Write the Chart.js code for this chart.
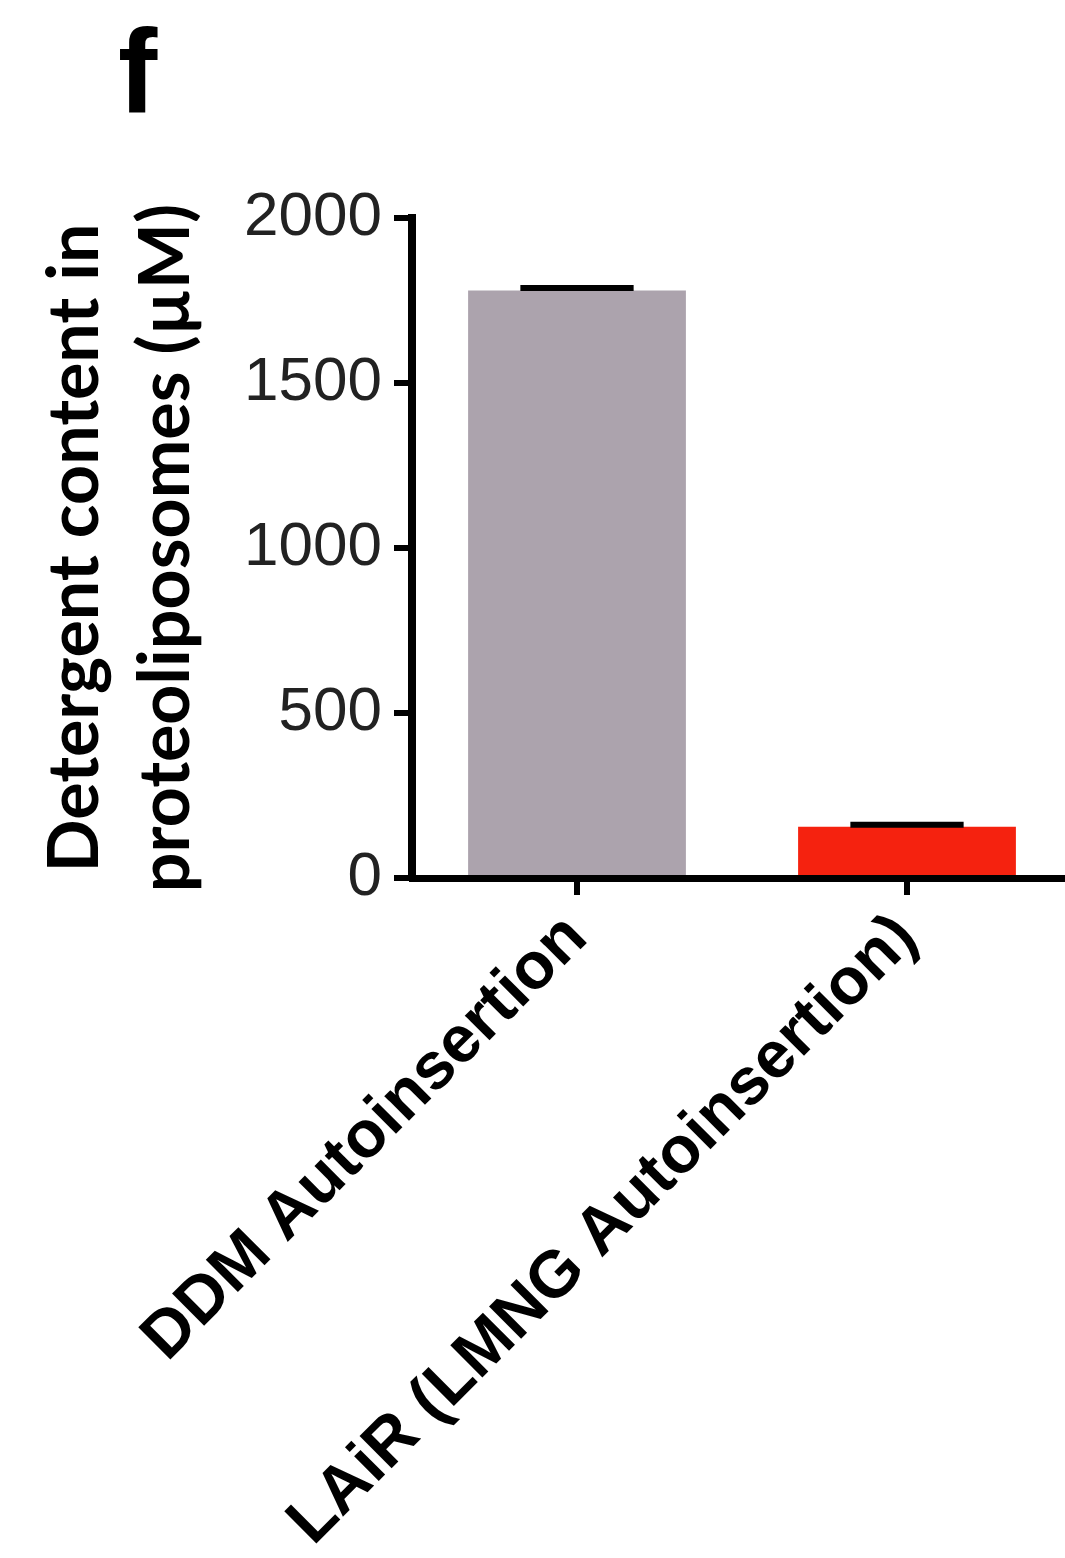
<!DOCTYPE html>
<html>
<head>
<meta charset="utf-8">
<script src="https://cdn.jsdelivr.net/npm/chart.js@4"></script>
<style>
  html, body { margin: 0; padding: 0; background: #fff; overflow: hidden; }
  #wrap { position: relative; width: 1072px; height: 1558px; }
  #panel { position: absolute; left: 118px; top: 3px; font: bold 118px 'Liberation Sans', Arial, sans-serif; color: #000; }
  canvas { position: absolute; left: 0; top: 0; }
</style>
</head>
<body>
<div id="wrap">
  <canvas id="chart" width="1072" height="1558"></canvas>
  <div id="panel">f</div>
</div>
<script>
// 세제 함량 막대 그래프 (평균 ± 오차)
const CATEGORIES = ['DDM Autoinsertion', 'LAiR (LMNG Autoinsertion)'];
const VALUES     = [1780, 155];
const ERRORS     = [8, 6];
const BAR_COLORS = ['#aca3ad', '#f5220f'];
const Y_TICKS    = [0, 500, 1000, 1500, 2000];
const Y_TITLE    = ['Detergent content in', 'proteoliposomes (\u00b5M)'];

// 오차 막대 (위쪽만)
const errorBars = {
  id: 'errorBars',
  afterDatasetsDraw(chart) {
    const ctx  = chart.ctx;
    const y    = chart.scales.y;
    const meta = chart.getDatasetMeta(0);
    ctx.save();
    ctx.strokeStyle = '#000';
    ctx.lineWidth = 6;
    meta.data.forEach((bar, i) => {
      const top  = y.getPixelForValue(VALUES[i] + ERRORS[i]);
      const base = y.getPixelForValue(VALUES[i]);
      const half = bar.width * 0.26;
      ctx.beginPath();
      ctx.moveTo(bar.x, base);
      ctx.lineTo(bar.x, top);
      ctx.moveTo(bar.x - half, top);
      ctx.lineTo(bar.x + half, top);
      ctx.stroke();
    });
    ctx.restore();
  }
};

new Chart(document.getElementById('chart'), {
  type: 'bar',
  data: {
    labels: CATEGORIES,
    datasets: [{ data: VALUES, backgroundColor: BAR_COLORS, borderWidth: 0, barPercentage: 0.66, categoryPercentage: 1 }]
  },
  options: {
    responsive: false,
    animation: false,
    layout: { padding: { top: 218, left: 0, right: 0, bottom: 0 } },
    plugins: { legend: { display: false }, tooltip: { enabled: false } },
    scales: {
      x: {
        afterFit: s => { s.height = 680; },
        grid: { offset: false, drawOnChartArea: false, drawTicks: true, tickLength: 17, lineWidth: 6, color: '#000' },
        border: { display: true, color: '#000', width: 7 },
        ticks: {
          autoSkip: false, minRotation: 45, maxRotation: 45, padding: 4, color: '#000',
          font: { family: "'Liberation Sans', Arial, sans-serif", size: 66, weight: 'bold' }
        }
      },
      y: {
        min: 0, max: 2000,
        afterFit: s => { s.width = 412; },
        afterBuildTicks: s => { s.ticks = Y_TICKS.map(v => ({ value: v })); },
        grid: { drawOnChartArea: false, drawTicks: true, tickLength: 18, lineWidth: 6, color: '#000' },
        border: { display: true, color: '#000', width: 8 },
        ticks: {
          padding: 12, color: '#222',
          callback: v => String(v),
          font: { family: "'Liberation Sans', Arial, sans-serif", size: 62 }
        },
        title: {
          display: true, text: Y_TITLE, color: '#000', padding: { top: 30, bottom: 0 },
          font: { family: 'Lato, sans-serif', size: 70, weight: 'bold', lineHeight: 1.3 }
        }
      }
    }
  },
  plugins: [errorBars]
});
</script>
</body>
</html>
